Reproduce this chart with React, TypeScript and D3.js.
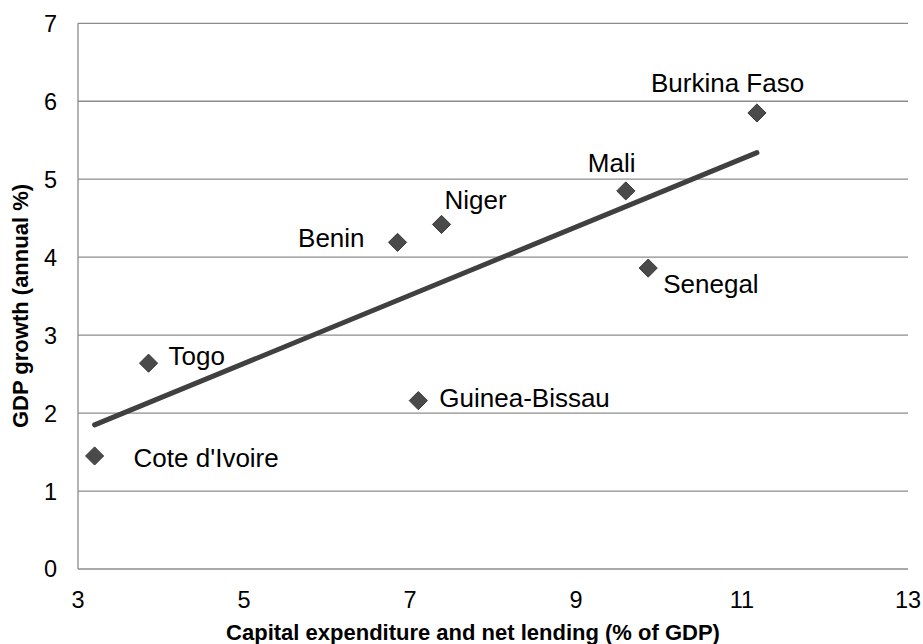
import React from "react";
import * as d3 from "d3";

// Capital expenditure (% of GDP) vs GDP growth (annual %) for WAEMU countries
const countries = [
  "Cote d'Ivoire",
  "Togo",
  "Benin",
  "Niger",
  "Guinea-Bissau",
  "Mali",
  "Senegal",
  "Burkina Faso",
];
const capex = [3.2, 3.85, 6.85, 7.38, 7.1, 9.6, 9.87, 11.18];
const growth = [1.45, 2.64, 4.19, 4.42, 2.16, 4.85, 3.86, 5.85];

const xTicks = [3, 5, 7, 9, 11, 13];
const yTicks = [0, 1, 2, 3, 4, 5, 6, 7];

const xTitle = "Capital expenditure and net lending (% of GDP)";
const yTitle = "GDP growth (annual %)";

// Label placement relative to each marker (pixels): dx, dy, anchor
const labelPlacement: Record<string, [number, number, "start" | "end"]> = {
  "Cote d'Ivoire": [39, 11, "start"],
  Togo: [20, 2, "start"],
  Benin: [-33, 5, "end"],
  Niger: [3, -15, "start"],
  "Guinea-Bissau": [21, 6.5, "start"],
  Mali: [-38, -19, "start"],
  Senegal: [15, 25, "start"],
  "Burkina Faso": [-106, -21, "start"],
};

const W = 923;
const H = 644;
const plot = { left: 78, right: 908, top: 23.3, bottom: 569 };
const FONT = "'Liberation Sans', Arial, sans-serif";

export default function App() {
  const x = d3.scaleLinear().domain([3, 13]).range([plot.left, plot.right]);
  const y = d3.scaleLinear().domain([0, 7]).range([plot.bottom, plot.top]);

  // Ordinary least squares trend line over the observed range
  const mx = d3.mean(capex)!;
  const my = d3.mean(growth)!;
  const sxy = d3.sum(capex.map((v, i) => (v - mx) * (growth[i] - my)));
  const sxx = d3.sum(capex.map((v) => (v - mx) * (v - mx)));
  const slope = sxy / sxx;
  const intercept = my - slope * mx;
  const [x0, x1] = d3.extent(capex) as [number, number];
  const trend = d3
    .line<number>()
    .x((v) => x(v))
    .y((v) => y(intercept + slope * v))([x0, x1]);

  const diamond = d3.symbol().type(d3.symbolDiamond2).size(210)();

  return (
    <svg
      width={W}
      height={H}
      style={{ position: "absolute", left: 0, top: 0, background: "#fff" }}
      fontFamily={FONT}
    >
      {/* horizontal gridlines */}
      {yTicks.map((t) => (
        <line
          key={"g" + t}
          x1={plot.left}
          x2={plot.right}
          y1={y(t)}
          y2={y(t)}
          stroke="#8c8c8c"
          strokeWidth={1.3}
        />
      ))}
      {/* left axis line */}
      <line
        x1={plot.left}
        x2={plot.left}
        y1={plot.top}
        y2={plot.bottom}
        stroke="#8c8c8c"
        strokeWidth={1.3}
      />

      {/* y tick labels */}
      {yTicks.map((t) => (
        <text
          key={"yl" + t}
          x={plot.left - 21}
          y={y(t)}
          dy="0.36em"
          textAnchor="end"
          fontSize={23.5}
          fill="#000"
        >
          {t}
        </text>
      ))}
      {/* x tick labels */}
      {xTicks.map((t) => (
        <text
          key={"xl" + t}
          x={x(t)}
          y={608}
          textAnchor="middle"
          fontSize={23.5}
          fill="#000"
        >
          {t}
        </text>
      ))}

      {/* axis titles */}
      <text
        x={(plot.left + plot.right) / 2 - 20}
        y={640}
        textAnchor="middle"
        fontSize={22}
        fontWeight="bold"
      >
        {xTitle}
      </text>
      <text
        transform={`translate(28, ${306}) rotate(-90)`}
        textAnchor="middle"
        fontSize={22}
        fontWeight="bold"
      >
        {yTitle}
      </text>

      {/* trend line */}
      <path
        d={trend!}
        fill="none"
        stroke="#404040"
        strokeWidth={5}
        strokeLinecap="round"
      />

      {/* markers */}
      {countries.map((c, i) => (
        <path
          key={"m" + c}
          d={diamond!}
          transform={`translate(${x(capex[i])}, ${y(growth[i])})`}
          fill="#4a4a4a"
          stroke="#3a3a3a"
          strokeWidth={1}
        />
      ))}

      {/* data labels */}
      {countries.map((c, i) => {
        const [dx, dy, anchor] = labelPlacement[c];
        return (
          <text
            key={"l" + c}
            x={x(capex[i]) + dx}
            y={y(growth[i]) + dy}
            textAnchor={anchor}
            fontSize={26}
            fill="#000"
          >
            {c}
          </text>
        );
      })}
    </svg>
  );
}
